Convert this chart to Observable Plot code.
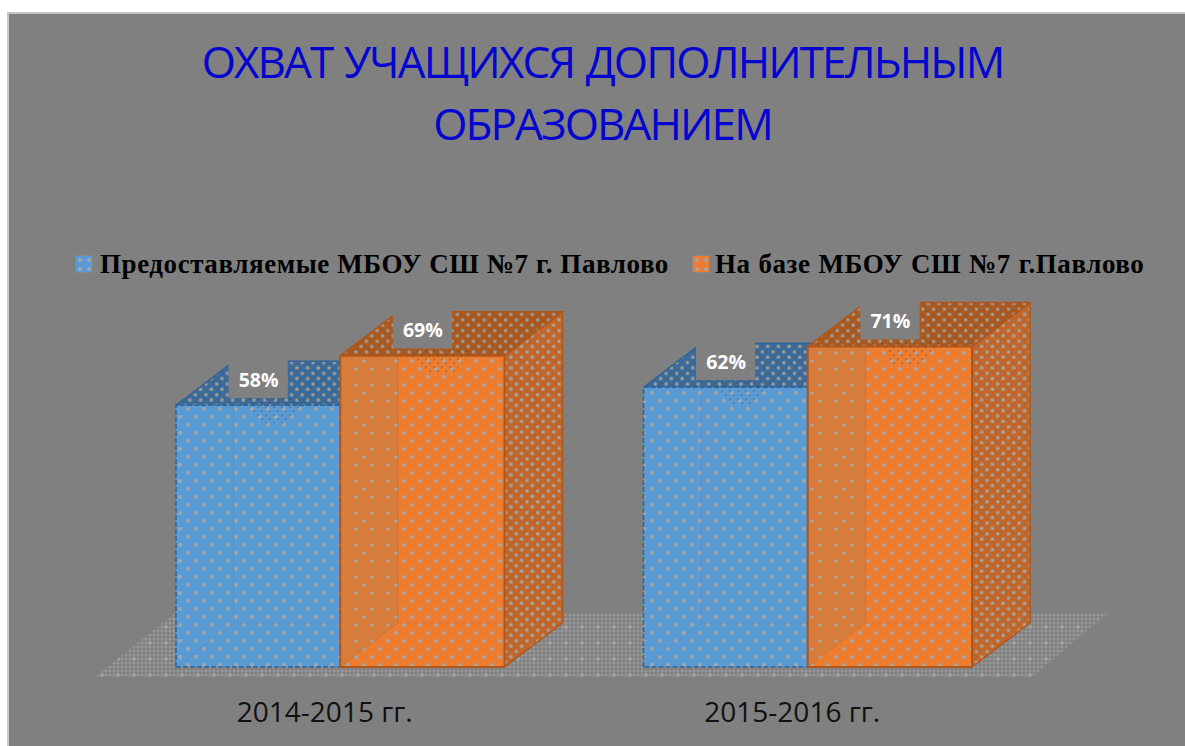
<!DOCTYPE html>
<html lang="ru"><head><meta charset="utf-8">
<script src="https://cdn.jsdelivr.net/npm/d3@7"></script>
<script src="https://cdn.jsdelivr.net/npm/@observablehq/plot@0.6"></script>
<style>
html,body{margin:0;padding:0;background:#fff;overflow:hidden;width:1185px;height:746px}
#frame{position:absolute;left:7px;top:12px;width:1176px;height:732px;background:#808080;border-left:2px solid #c8c8c8;border-top:2px solid #c4c4c4}
#title{position:absolute;left:0;width:1205px;top:30px;text-align:center;font:44px/62px "Open Sans",sans-serif;color:#0505cf;letter-spacing:-1.9px;word-spacing:2px}
.leg{position:absolute;top:250px;font:bold 27px/28px "Liberation Serif",serif;color:#000;white-space:nowrap}
.sw{position:absolute;top:255px;width:18px;height:18px;box-sizing:border-box;border:1px solid #888}
#chart{position:absolute;left:0;top:285px}
</style></head><body>
<div id="frame"></div>
<div id="title"></div>
<div id="legend"></div>
<div id="chart"></div>
<script>
const titleLines = ["ОХВАТ УЧАЩИХСЯ ДОПОЛНИТЕЛЬНЫМ", "ОБРАЗОВАНИЕМ"];
const periods = ["2014-2015 гг.", "2015-2016 гг."];
const seriesNames = ["Предоставляемые МБОУ СШ №7 г. Павлово", "На базе МБОУ СШ №7 г.Павлово"];
const provided = [58, 62];
const onSite = [69, 71];

const gap = 0.846, depthX = 58, depthY = 44;
const slot = (g, s) => g * (seriesNames.length + gap) + s;
const rows = periods.flatMap((p, g) => [provided[g], onSite[g]].map((value, s) =>
  ({period: p, series: seriesNames[s], s, x1: slot(g, s), x2: slot(g, s) + 1, value})));

const palette = [
  {front: "#5b9bd5", top: "#3a6a99", side: "#3f74a8", edge: "#2f6498"},
  {front: "#ed7d31", top: "#a9591f", side: "#c0662a", edge: "#b0561b"}
];

function addPattern(defs, id, size, bg, dots, r, fill) {
  const p = defs.append("pattern").attr("id", id).attr("patternUnits", "userSpaceOnUse")
    .attr("width", size).attr("height", size);
  if (bg) p.append("rect").attr("width", size).attr("height", size).attr("fill", bg);
  for (const [cx, cy] of dots) p.append("circle").attr("cx", cx).attr("cy", cy).attr("r", r).attr("fill", fill);
  return p;
}

function floorMark(index, {x, y}) {
  const g = d3.create("svg:g");
  const defs = g.append("defs");
  palette.forEach((c, i) => {
    addPattern(defs, `front${i}`, 16, c.front, [[4, 4], [12, 12]], 2, "#a6a6a6");
    addPattern(defs, `top${i}`, 10.7, c.top, [[2.7, 2.7], [8, 8]], 1.8, "#a09a94");
    addPattern(defs, `side${i}`, 10.7, c.side, [[2.7, 2.7], [8, 8]], 1.8, "#a8a29c");
  });
  addPattern(defs, "sparse", 32, "#d87c3c", [[4, 4], [20, 4], [4, 20], [20, 20], [12, 12]], 1.7, "#a4a4a4");
  const grid = d3.range(2, 16, 4).flatMap(a => d3.range(2, 16, 4).map(b => [a, b]));
  addPattern(defs, "floor", 16, null, grid, 1.5, "#989898")
    .append("circle").attr("cx", 6).attr("cy", 6).attr("r", 2).attr("fill", "#a0a0a0");
  addPattern(defs, "stipple", 8, null, [[2, 2], [6, 6]], 0.6, "#2a2a2a");
  const x0 = x(0), xEnd = x(slot(periods.length - 1, seriesNames.length)), base = y(0);
  g.append("polygon").attr("fill", "url(#floor)").attr("points", [
    [x0 - 81, base + 10], [xEnd + 60, base + 10], [xEnd + 136, base - 54], [x0 - 1, base - 54]
  ].join(" "));
  return g.node();
}

function boxRender(index, scales, values, dimensions, context, next) {
  const node = next(index, scales, values, dimensions, context);
  const faces = d3.create("svg:g");
  const over = d3.create("svg:g");
  for (const i of index) {
    const a = values.x1[i], b = values.x2[i];
    const top = Math.min(values.y1[i], values.y2[i]), base = Math.max(values.y1[i], values.y2[i]);
    const s = rows[i].s, c = palette[s];
    faces.append("polygon").attr("fill", `url(#top${s})`).attr("points",
      [[a, top], [a + depthX, top - depthY], [b + depthX, top - depthY], [b, top]].join(" "));
    faces.append("polygon").attr("fill", `url(#side${s})`).attr("points",
      [[b, top], [b + depthX, top - depthY], [b + depthX, base - depthY], [b, base]].join(" "));
    faces.append("path").attr("fill", "none").attr("stroke", c.edge).attr("stroke-width", 1.5)
      .attr("d", `M${b},${top}L${b + depthX},${top - depthY}M${b},${base}L${b + depthX},${base - depthY}V${top - depthY}H${a + depthX}L${a},${top}`);
    if (s === 1) over.append("polygon").attr("fill", "url(#sparse)").attr("points",
      [[a, top], [a + depthX, top], [a + depthX, base - depthY], [a, base]].join(" "));
    over.append("path").attr("fill", "none").attr("stroke", "rgba(0,0,0,.04)").attr("stroke-width", 1.5)
      .attr("d", `M${a},${base}L${a + depthX},${base - depthY}V${top}M${a + depthX},${base - depthY}H${b}`);
    over.append("path").attr("fill", "none").attr("stroke", c.edge).attr("stroke-width", s ? 2 : 1.5)
      .attr("stroke-dasharray", s ? null : "5 2")
      .attr("d", `M${a},${base}V${top}H${b}V${base}Z`);
    over.append("polygon").attr("fill", "url(#stipple)").attr("points",
      [[a + 68, top - 7], [a + 135, top - 7], [a + 112, top + 18], [a + 85, top + 18]].join(" "));
  }
  const g = d3.create("svg:g");
  g.append(() => faces.node());
  g.append(() => node);
  g.append(() => over.node());
  return g.node();
}

const font = '"Open Sans",sans-serif';
const plot = Plot.plot({
  width: 1185, height: 461,
  marginLeft: 106.5, marginRight: 143.5, marginTop: 21, marginBottom: 79,
  style: {background: "transparent", overflow: "visible"},
  x: {domain: [-gap / 2, seriesNames.length * periods.length + gap + gap / 2], axis: null},
  y: {domain: [0, 80], axis: null},
  color: {type: "ordinal", domain: seriesNames, range: ["url(#front0)", "url(#front1)"]},
  marks: [
    floorMark,
    Plot.rect(rows, {x1: "x1", x2: "x2", y1: 0, y2: "value", fill: "series", render: boxRender}),
    Plot.rect(rows, {x1: d => d.x1 + 0.32, x2: d => d.x1 + 0.68, y1: d => d.value + 1.6, y2: d => d.value + 11, fill: "#808080"}),
    Plot.text(rows, {x: d => d.x1 + 0.5, y: "value", dy: -25, text: d => d.value + "%", fill: "#fff",
      fontSize: 19.5, fontWeight: 700, fontFamily: font}),
    Plot.axisX(periods.map((_, g) => slot(g, 1)), {
      tickFormat: d => periods[Math.round((d - 1) / (seriesNames.length + gap))],
      tickSize: 0, tickPadding: 35, fontSize: 28, fontFamily: font, fill: "#111", dx: -16, label: null, lineAnchor: "top"
    })
  ]
});
document.getElementById("chart").append(plot);
document.getElementById("title").innerHTML = titleLines.map(t => `<div>${t}</div>`).join("");
const legend = d3.select("#legend");
[[75, 100, 0.57, 0], [692, 715, 0.57, 0.5]].forEach(([sx, tx, ls, ws], i) => {
  legend.append("div").attr("class", "sw").style("left", sx + "px")
    .style("background", `radial-gradient(circle at 4px 4px,#a4a4a4 1.6px,transparent 2px) 0 0/9px 9px, ${palette[i].front}`);
  legend.append("div").attr("class", "leg").style("left", tx + "px")
    .style("letter-spacing", ls + "px").style("word-spacing", ws + "px").text(seriesNames[i]);
});
</script>
</body></html>
